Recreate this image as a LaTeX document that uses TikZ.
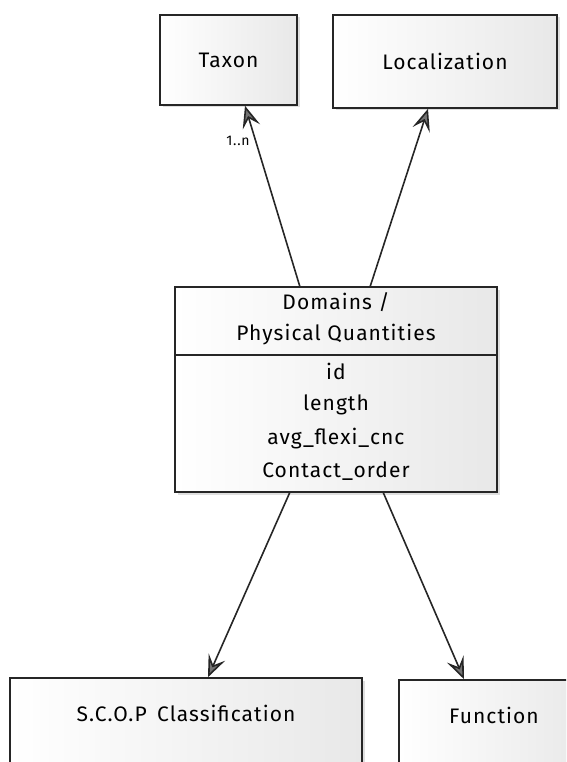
\documentclass[tikz,border=0pt]{standalone}
\usepackage{fontspec}
\setmainfont[LetterSpace=5]{Fira Sans}
\usetikzlibrary{arrows.meta,shadows}
\begin{document}
\begin{tikzpicture}[x=1pt,y=-1pt,
  box/.style={draw=black!85, line width=1.6pt, inner sep=0pt,
    left color=white, right color=gray!18,
    drop shadow={shadow xshift=2.5pt, shadow yshift=-2.5pt, opacity=0.25, fill=gray},
    font=\fontsize{21}{24}\selectfont},
  attr/.style={font=\fontsize{21}{24}\selectfont, inner sep=0pt},
  link/.style={line width=1.6pt, draw=black!85,
    -{Stealth[length=22pt,width=18pt,inset=9pt,fill=black!55,line width=1.6pt]}},
  lbl/.style={font=\fontsize{14}{16}\selectfont, inner sep=0pt}]
\useasboundingbox (0,0) rectangle (566,762);
\begin{scope}
\clip (0,0) rectangle (566,762);
% upper classes
\node[box, minimum width=137pt, minimum height=90pt] (taxon) at (228.5,60) {Taxon};
\node[box, minimum width=224pt, minimum height=93pt] (loc) at (445,61.5) {Localization};
% central class with its attributes
\node[box, minimum width=322pt, minimum height=205pt] (dom) at (336,389.5) {};
\node[attr] (t1) at (336,302) {Domains /};
\node[attr] (t2) at (336,335) {Physical Quantities};
\draw[line width=1.6pt, black!85] (dom.west |- 0,355) coordinate (dl) -- (dom.east |- 0,355) coordinate (dr);
\node[attr] (a1) at (336,371) {id};
\node[attr] (a2) at (336,405) {length};
\node[attr] (a3) at (336,439) {avg\_flexi\_cnc};
\node[attr] (a4) at (336,471) {Contact\_order};
% lower classes, cut by the page edge
\node[box, minimum width=352pt, minimum height=110pt, text depth=40pt] (scop) at (186,733) {S.C.O.P\enspace Classification};
\node[box, minimum width=190pt, minimum height=110pt, text depth=40pt] (func) at (494,735) {Function};
\end{scope}
% associations
\coordinate (s1) at (300,287);
\coordinate (s2) at (370,287);
\coordinate (s3) at (290,492);
\coordinate (s4) at (383,492);
\draw[link] (s1) -- (taxon.south -| 245,0);
\draw[link] (s2) -- (loc.south -| 428,0);
\draw[link] (s3) -- (scop.north -| 208,0);
\draw[link] (s4) -- (func.north -| 464,0);
\node[lbl] (mult) at (238,141) {1..n};
\end{tikzpicture}
\end{document}
